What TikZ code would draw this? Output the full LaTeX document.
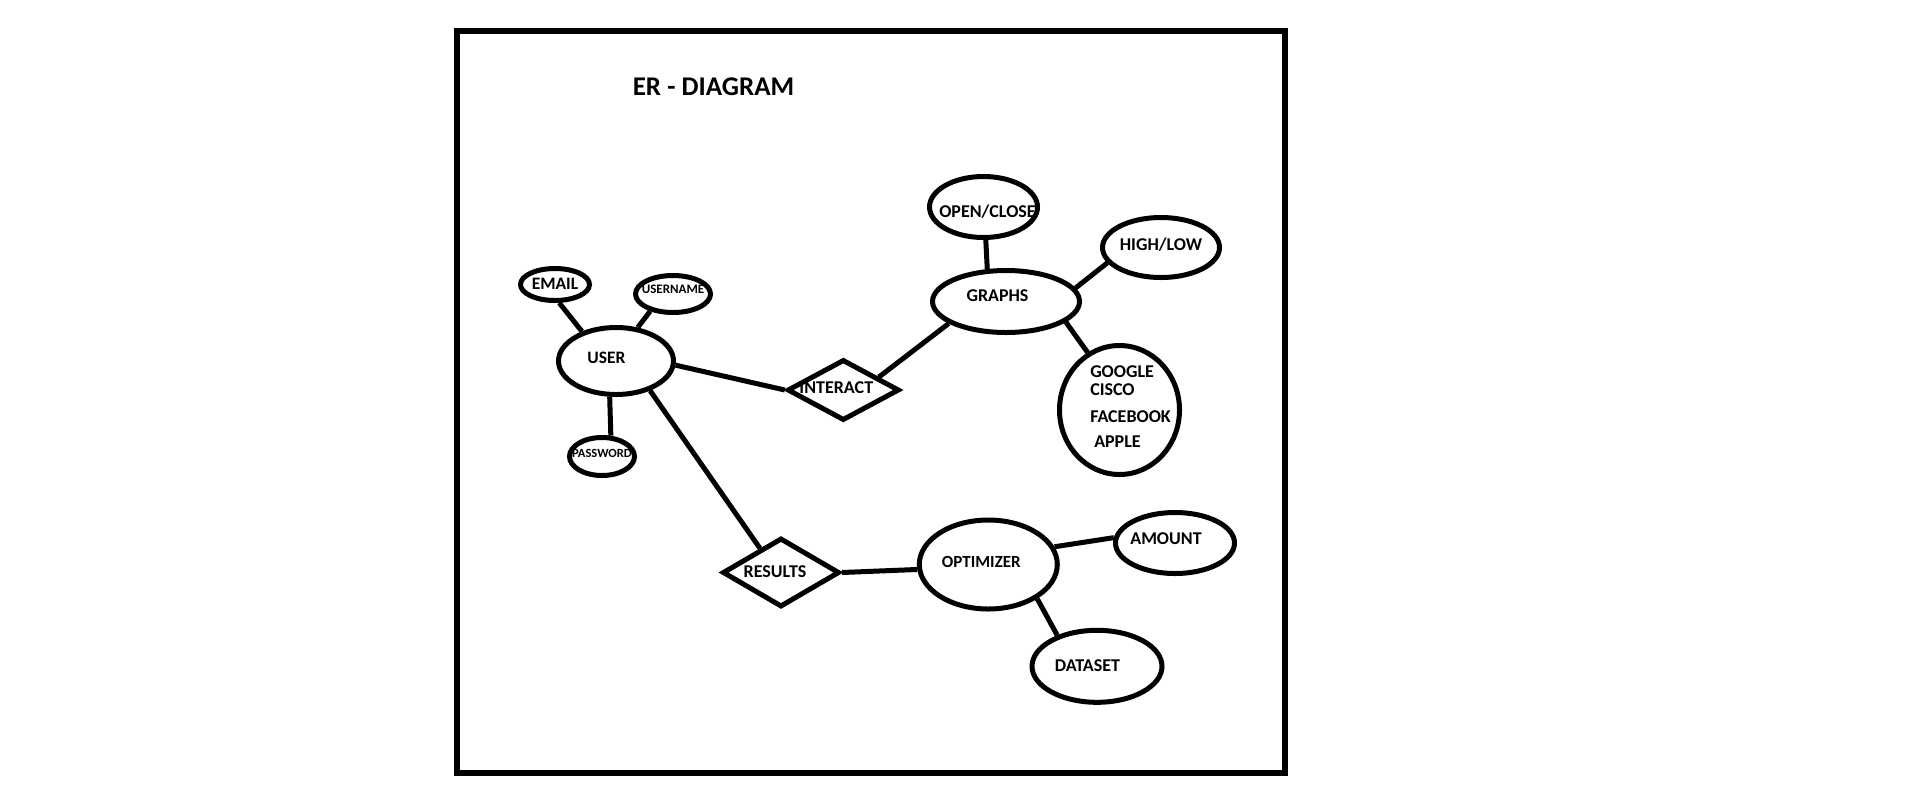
\documentclass[tikz,border=0pt]{standalone}
\usepackage{fontspec}
\setmainfont{Carlito}
\usetikzlibrary{shapes.geometric}
\begin{document}
\begin{tikzpicture}[x=1pt,y=-1pt,
    attr/.style={ellipse,draw,line width=5pt,inner sep=0pt},
    rel/.style={diamond,draw,line width=5pt,inner sep=0pt,line join=miter},
    txt/.style={font=\bfseries\fontsize{18}{21.6}\selectfont,inner sep=0pt,text depth=0pt},
    conn/.style={line width=5pt}]
  \fill[white] (0,0) rectangle (1914,807);
  \useasboundingbox (0,0) rectangle (1914,807);
  \draw[line width=6pt] (457,30.5) rectangle (1284.5,772.5);
  \node[txt,font=\bfseries\fontsize{27}{32}\selectfont] (title) at (713.5,87) {ER - DIAGRAM};
  % user side
  \node[attr,minimum width=115,minimum height=67,
    label={[txt,font=\bfseries\fontsize{17.5}{21}\selectfont,xshift=-9.5pt,yshift=3pt]center:USER}] (user) at (616,361) {};
  \node[attr,minimum width=69,minimum height=32,
    label={[txt,font=\bfseries\fontsize{17.5}{21}\selectfont,yshift=1pt]center:EMAIL}] (email) at (555,284.5) {};
  \node[attr,minimum width=75,minimum height=37,
    label={[txt,font=\bfseries\fontsize{13}{16}\selectfont,yshift=4.5pt]center:USERNAME}] (uname) at (673,294) {};
  \node[attr,minimum width=65,minimum height=38,
    label={[txt,font=\bfseries\fontsize{12.5}{15}\selectfont,yshift=3.5pt]center:PASSWORD}] (pass) at (602,456.5) {};
  % relations
  \node[rel,minimum width=112,minimum height=61,
    label={[txt,xshift=-7pt,yshift=2.5pt]center:INTERACT}] (interact) at (843.3,390) {};
  \node[rel,minimum width=117,minimum height=69,
    label={[txt,xshift=-6pt,yshift=1pt]center:RESULTS}] (results) at (781,572.5) {};
  % graphs side
  \node[attr,minimum width=147,minimum height=62,
    label={[txt,xshift=-8.5pt,yshift=5.5pt]center:GRAPHS}] (graphs) at (1006,301.5) {};
  \node[attr,minimum width=108,minimum height=61,
    label={[txt,xshift=4pt,yshift=-4pt]center:OPEN/CLOSE}] (openclose) at (983.5,207) {};
  \node[attr,minimum width=117,minimum height=60,
    label={[txt,yshift=3.5pt]center:HIGH/LOW}] (highlow) at (1161,247.5) {};
  \node[attr,minimum width=120,minimum height=129,
    label={[txt,align=left,xshift=11pt,yshift=3pt]center:{GOOGLE\\[-3.6pt]CISCO\\[5.4pt]FACEBOOK\\[3.4pt]\hspace*{4pt}APPLE}}] (company) at (1119.5,410) {};
  % optimizer side
  \node[attr,minimum width=138,minimum height=89,
    label={[txt,font=\bfseries\fontsize{17}{20}\selectfont,xshift=-7pt,yshift=2.8pt]center:OPTIMIZER}] (optim) at (988.3,564.5) {};
  \node[attr,minimum width=119,minimum height=61,
    label={[txt,xshift=-9pt,yshift=4.5pt]center:AMOUNT}] (amount) at (1175,543) {};
  \node[attr,minimum width=130,minimum height=72,
    label={[txt,xshift=-9.5pt,yshift=0.5pt]center:DATASET}] (dataset) at (1097,666.3) {};
  % connectors
  \draw[conn] (email.283) -- (user.139);
  \draw[conn] (uname.217) -- (user.57);
  \draw[conn] (user.260) -- (pass.67);
  \draw[conn] (user.356) -- (interact.west);
  \draw[conn] (user.319) -- (results.131);
  \draw[conn] (interact.20) -- (graphs.201);
  \draw[conn] (openclose.274) -- (graphs.120);
  \draw[conn] (graphs.11) -- (highlow.196);
  \draw[conn] (graphs.341) -- (company.119);
  \draw[conn] (results.east) -- (optim.184);
  \draw[conn] (optim.15) -- (amount.175);
  \draw[conn] (optim.325) -- (dataset.142);
\end{tikzpicture}
\end{document}
